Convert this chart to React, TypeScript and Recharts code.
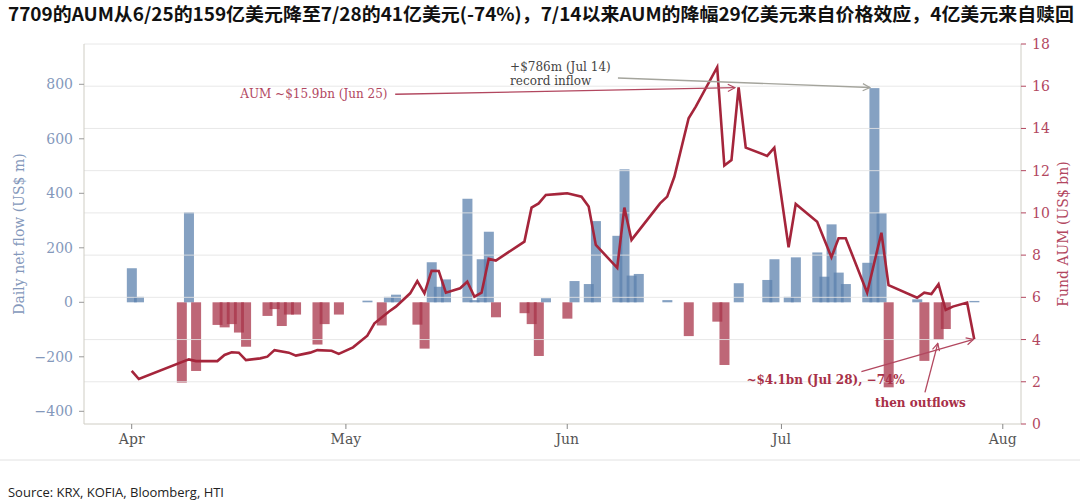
import React from "react";
import {
  ComposedChart,
  Bar,
  Line,
  XAxis,
  YAxis,
  ReferenceLine,
  ReferenceDot,
} from "recharts";

// x values are days counted from Apr 1
const monthTicks = [0, 30, 61, 91, 122];
const monthLabels = ["Apr", "May", "Jun", "Jul", "Aug"];

const flowTicks = [-400, -200, 0, 200, 400, 600, 800];
const aumTicks = [0, 2, 4, 6, 8, 10, 12, 14, 16, 18];

// daily net flow, US$ m
const flowDays = [
  0, 1, 7, 8, 9, 12, 13, 14, 15, 16, 19, 20, 21, 22, 23, 26, 27, 29, 33, 35, 36,
  37, 40, 41, 42, 43, 44, 47, 48, 49, 50, 51, 55, 56, 57, 58, 61, 62, 64, 65, 68,
  69, 70, 71, 75, 78, 82, 83, 85, 89, 90, 92, 93, 96, 97, 98, 99, 100, 103, 104,
  105, 106, 110, 111, 113, 114, 118,
];
const flowValues = [
  125, 20, -295, 330, -252, -83, -92, -80, -111, -163, -50, -25, -87, -45, -45,
  -155, -80, -45, 6, -85, 20, 28, -82, -170, 147, 57, 84, 380, 8, 158, 259, -55,
  -40, -80, -197, 15, -60, 78, 67, 298, 244, 488, 98, 104, 8, -124, -71, -230, 70,
  82, 158, 20, 165, 183, 94, 286, 109, 67, 145, 786, 327, -312, 11, -215, -138,
  -98, 5,
];

// fund AUM, US$ bn
const aumDays = [
  0, 1, 8, 9, 12, 13, 14, 15, 16, 18, 19, 20, 22, 23, 25, 26, 28, 29, 31, 33, 34,
  36, 37, 39, 40, 41, 42, 43, 44, 46, 47, 48, 49, 50, 51, 55, 56, 57, 58, 60, 61,
  63, 64, 65, 68, 69, 70, 74, 75, 76, 78, 79, 82, 83, 84, 85, 86, 89, 90, 92, 93,
  96, 98, 99, 100, 103, 105, 106, 110, 111, 112, 113, 114, 115, 117, 118,
];
const aumValues = [
  2.52, 2.13, 3.06, 2.98, 2.98, 3.27, 3.4, 3.38, 3.03, 3.11, 3.19, 3.5, 3.38,
  3.24, 3.38, 3.5, 3.47, 3.32, 3.63, 4.18, 4.77, 5.32, 5.56, 6.19, 6.77, 6.19,
  7.26, 7.25, 6.22, 6.43, 6.74, 6.03, 6.22, 7.82, 7.74, 8.64, 10.25, 10.45, 10.85,
  10.9, 10.93, 10.77, 10.3, 8.48, 7.4, 10.25, 8.72, 10.45, 10.77, 11.71, 14.48,
  15.03, 16.9, 12.24, 12.5, 15.95, 13.09, 12.7, 13.09, 8.37, 10.42, 9.58, 7.9,
  8.8, 8.8, 6.22, 9.06, 6.58, 5.98, 6.22, 6.16, 6.62, 5.4, 5.56, 5.75, 4.01,
];

const TITLE =
  "7709的AUM从6/25的159亿美元降至7/28的41亿美元(-74%)，7/14以来AUM的降幅29亿美元来自价格效应，4亿美元来自赎回";
const SOURCE = "Source: KRX, KOFIA, Bloomberg, HTI";

const allDays = Array.from(new Set([...flowDays, ...aumDays])).sort((a, b) => a - b);
const rows = allDays.map((day) => {
  const fi = flowDays.indexOf(day);
  const ai = aumDays.indexOf(day);
  return {
    day,
    flow: fi >= 0 ? flowValues[fi] : null,
    aum: ai >= 0 ? aumValues[ai] : null,
  };
});

const SERIF = "'DejaVu Serif', serif";
const BLUE = "#5c81ad";
const RED_BAR = "#a8344a";
const RED_LINE = "#a5253b";
const BLUE_TXT = "#8498bb";
const RED_TXT = "#b2475f";
const SPINE = "#cfcdc4";
const GRID = "#e4e4e4";
const GREY_ARROW = "#a4a49c";

const minus = (v: number) => String(v).replace("-", "\u2212");

function FlowBar(props: any) {
  const { x, y, width, height, payload } = props;
  if (!payload || payload.flow == null) return <g />;
  const cx = x + width / 2;
  const top = Math.min(y, y + height);
  const h = Math.abs(height);
  return (
    <rect
      x={cx - 5}
      y={top}
      width={10}
      height={h}
      fill={payload.flow >= 0 ? BLUE : RED_BAR}
      fillOpacity={0.75}
    />
  );
}

const textAt = (label: string, fill: string, bold = false) => (p: any) => (
  <text
    x={p.cx}
    y={p.cy}
    fill={fill}
    fontFamily={SERIF}
    fontSize={12}
    fontWeight={bold ? 700 : 400}
  >
    {label}
  </text>
);

export default function App() {
  return (
    <div
      style={{
        position: "absolute",
        left: 0,
        top: 0,
        width: 1080,
        height: 502,
        background: "#fff",
        overflow: "hidden",
      }}
    >
      <div style={{ position: "absolute", left: 0, top: 0 }}>
        <ComposedChart
          width={1080}
          height={460}
          data={rows}
          margin={{ top: 44, right: 0, bottom: 0, left: 0 }}
        >
          <defs>
            <marker
              id="arrowGrey"
              viewBox="0 0 10 10"
              refX="9"
              refY="5"
              markerWidth="9"
              markerHeight="9"
              markerUnits="userSpaceOnUse"
              orient="auto"
            >
              <path d="M1,1 L9,5 L1,9" fill="none" stroke={GREY_ARROW} strokeWidth="1.3" />
            </marker>
            <marker
              id="arrowRed"
              viewBox="0 0 10 10"
              refX="9"
              refY="5"
              markerWidth="9"
              markerHeight="9"
              markerUnits="userSpaceOnUse"
              orient="auto"
            >
              <path d="M1,1 L9,5 L1,9" fill="none" stroke={RED_TXT} strokeWidth="1.3" />
            </marker>
          </defs>
          <XAxis
            dataKey="day"
            type="number"
            domain={[-6.68, 124.55]}
            allowDataOverflow
            ticks={monthTicks}
            interval={0}
            tickFormatter={(v) => monthLabels[monthTicks.indexOf(v)]}
            height={36}
            tickSize={5}
            tickMargin={5}
            axisLine={{ stroke: SPINE }}
            tickLine={{ stroke: "#888" }}
            tick={{ fill: "#555", fontSize: 14, fontFamily: SERIF }}
          />
          <YAxis
            yAxisId="flow"
            orientation="left"
            width={84}
            domain={[-446.6, 947.9]}
            allowDataOverflow
            ticks={flowTicks}
            interval={0}
            tickFormatter={minus}
            tickSize={5}
            tickMargin={6}
            axisLine={{ stroke: SPINE }}
            tickLine={{ stroke: "#999" }}
            tick={{ fill: BLUE_TXT, fontSize: 14, fontFamily: SERIF }}
          />
          <YAxis
            yAxisId="aum"
            orientation="right"
            width={59}
            domain={[0, 18]}
            allowDataOverflow
            ticks={aumTicks}
            interval={0}
            tickSize={5}
            tickMargin={6}
            axisLine={{ stroke: SPINE }}
            tickLine={{ stroke: RED_TXT }}
            tick={{ fill: RED_TXT, fontSize: 14, fontFamily: SERIF }}
          />
          <Bar
            yAxisId="flow"
            dataKey="flow"
            isAnimationActive={false}
            shape={FlowBar}
          />
          {aumTicks.slice(1).map((t) => (
            <ReferenceLine
              key={t}
              yAxisId="aum"
              y={t}
              stroke={GRID}
              strokeOpacity={0.85}
              strokeWidth={1}
            />
          ))}
          <Line
            yAxisId="aum"
            dataKey="aum"
            type="linear"
            stroke={RED_LINE}
            strokeWidth={2.6}
            dot={false}
            activeDot={false}
            connectNulls
            isAnimationActive={false}
          />
          <ReferenceLine
            yAxisId="aum"
            segment={[
              { x: 68.1, y: 16.39 },
              { x: 103.4, y: 15.94 },
            ]}
            stroke={GREY_ARROW}
            strokeWidth={1.3}
            markerEnd="url(#arrowGrey)"
          />
          <ReferenceLine
            yAxisId="aum"
            segment={[
              { x: 36.9, y: 15.62 },
              { x: 84.5, y: 15.93 },
            ]}
            stroke={RED_TXT}
            strokeWidth={1.3}
            markerEnd="url(#arrowRed)"
          />
          <ReferenceLine
            yAxisId="aum"
            segment={[
              { x: 102.2, y: 2.48 },
              { x: 117.9, y: 4.01 },
            ]}
            stroke={RED_TXT}
            strokeWidth={1.3}
            markerEnd="url(#arrowRed)"
          />
          <ReferenceLine
            yAxisId="aum"
            segment={[
              { x: 111.1, y: 1.5 },
              { x: 112.9, y: 3.82 },
            ]}
            stroke={RED_TXT}
            strokeWidth={1.3}
            markerEnd="url(#arrowRed)"
          />
          <ReferenceDot yAxisId="aum" x={53.0} y={16.72} shape={textAt("+$786m (Jul 14)", "#444")} />
          <ReferenceDot yAxisId="aum" x={53.0} y={16.05} shape={textAt("record inflow", "#444")} />
          <ReferenceDot yAxisId="aum" x={15.2} y={15.43} shape={textAt("AUM ~$15.9bn (Jun 25)", RED_TXT)} />
          <ReferenceDot yAxisId="aum" x={86.1} y={1.88} shape={textAt("~$4.1bn (Jul 28), \u221274%", "#a83048", true)} />
          <ReferenceDot yAxisId="aum" x={104.1} y={0.79} shape={textAt("then outflows", "#a83048", true)} />
        </ComposedChart>
      </div>
      <svg
        width={1080}
        height={502}
        style={{ position: "absolute", left: 0, top: 0, pointerEvents: "none" }}
      >
        <text
          x={8}
          y={21}
          fontFamily="'Noto Sans CJK SC', sans-serif"
          fontWeight={700}
          fontSize={18}
          fill="#111"
          textLength={1066}
          lengthAdjust="spacingAndGlyphs"
        >
          {TITLE}
        </text>
        <text
          transform="translate(19,234) rotate(-90)"
          textAnchor="middle"
          dominantBaseline="central"
          fontFamily={SERIF}
          fontSize={14}
          fill={BLUE_TXT}
        >
          Daily net flow (US$ m)
        </text>
        <text
          transform="translate(1063,234) rotate(-90)"
          textAnchor="middle"
          dominantBaseline="central"
          fontFamily={SERIF}
          fontSize={14}
          fill={RED_TXT}
        >
          Fund AUM (US$ bn)
        </text>
        <line x1={0} x2={1080} y1={460} y2={460} stroke="#e2e2e2" strokeWidth={1} />
        <text
          x={8}
          y={497}
          fontFamily="'Open Sans', sans-serif"
          fontSize={12.5}
          fill="#222"
          textLength={216}
          lengthAdjust="spacingAndGlyphs"
        >
          {SOURCE}
        </text>
      </svg>
    </div>
  );
}
